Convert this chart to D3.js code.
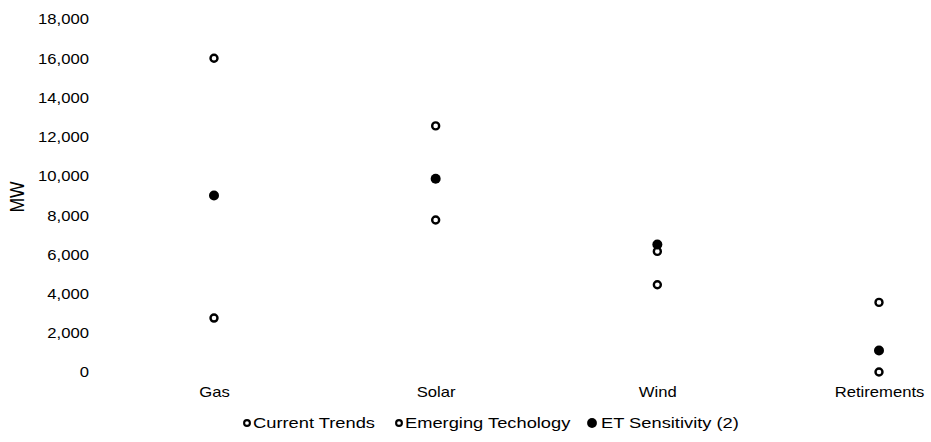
<!DOCTYPE html>
<html>
<head>
<meta charset="utf-8">
<script src="https://cdn.jsdelivr.net/npm/d3@7"></script>
<style>
  html, body { margin: 0; padding: 0; background: #fff; }
  text { font-family: "Liberation Sans", Arial, sans-serif; fill: #000; }
</style>
</head>
<body>
<svg id="chart" width="931" height="442"></svg>
<script>
// ---- data ----
const categories = ["Gas", "Solar", "Wind", "Retirements"];
const currentTrends = [16000, 7750, 4450, 3550];
const emergingTech = [2750, 12550, 6150, 0];
const etSensitivity = [9000, 9850, 6500, 1100];
const seriesNames = ["Current Trends", "Emerging Techology", "ET Sensitivity (2)"];
const tickValues = [0, 2000, 4000, 6000, 8000, 10000, 12000, 14000, 16000, 18000];
const tickLabels = ["0", "2,000", "4,000", "6,000", "8,000", "10,000", "12,000", "14,000", "16,000", "18,000"];
const yTitle = "MW";

// ---- layout ----
const SX = 1.19;      // horizontal stretch of text seen in reference
const FS = 14;
const svg = d3.select("#chart");

const x = d3.scalePoint().domain(categories).range([214, 879]);
const y = d3.scaleLinear().domain([0, 18000]).range([372, 19]);

// y axis (labels only)
const yAxis = svg.append("g")
  .attr("transform", "translate(89,0)")
  .call(d3.axisLeft(y).tickValues(tickValues).tickFormat((d, i) => tickLabels[i]).tickSize(0).tickPadding(0));
yAxis.select(".domain").remove();
yAxis.selectAll("text")
  .attr("x", 0)
  .attr("dy", "0.35em")
  .attr("transform", `scale(${SX},1)`)
  .style("font-size", FS + "px")
  .style("font-family", '"Liberation Sans", Arial, sans-serif')
  .attr("fill", "#000");

// x axis (labels only)
const xAxis = svg.append("g")
  .attr("transform", "translate(0,392)")
  .call(d3.axisBottom(x).tickSize(0).tickPadding(0));
xAxis.select(".domain").remove();
xAxis.selectAll("text")
  .attr("y", 0)
  .attr("dy", "0.35em")
  .attr("transform", `scale(${SX},1)`)
  .style("font-size", FS + "px")
  .style("font-family", '"Liberation Sans", Arial, sans-serif')
  .attr("fill", "#000");

// y title
svg.append("text")
  .attr("transform", `translate(17,197) scale(${SX},1) rotate(-90)`)
  .attr("text-anchor", "middle")
  .attr("dy", "0.35em")
  .style("font-size", "17.5px")
  .text(yTitle);

// ---- marks ----
const openSeries = [currentTrends, emergingTech];
openSeries.forEach(vals => {
  svg.append("g").selectAll("circle")
    .data(vals)
    .join("circle")
    .attr("cx", (d, i) => x(categories[i]))
    .attr("cy", d => y(d))
    .attr("r", 3.5)
    .attr("fill", "#fff")
    .attr("stroke", "#000")
    .attr("stroke-width", 2.4);
});
svg.append("g").selectAll("circle")
  .data(etSensitivity)
  .join("circle")
  .attr("cx", (d, i) => x(categories[i]))
  .attr("cy", d => y(d))
  .attr("r", 5)
  .attr("fill", "#000");

// ---- legend ----
const LSX = 1.22, LFS = 15;
const legendX = [247, 399, 592];
const legendY = 423;
const leg = svg.append("g");
seriesNames.forEach((name, i) => {
  if (i < 2) {
    leg.append("circle").attr("cx", legendX[i]).attr("cy", legendY).attr("r", 2.9)
      .attr("fill", "#fff").attr("stroke", "#000").attr("stroke-width", 2.1);
  } else {
    leg.append("circle").attr("cx", legendX[i]).attr("cy", legendY).attr("r", 4.9).attr("fill", "#000");
  }
  leg.append("text")
    .attr("transform", `translate(${legendX[i] + (i < 2 ? 6 : 9)},${legendY}) scale(${LSX},1)`)
    .attr("dy", "0.35em")
    .style("font-size", LFS + "px")
    .text(name);
});
</script>
</body>
</html>
